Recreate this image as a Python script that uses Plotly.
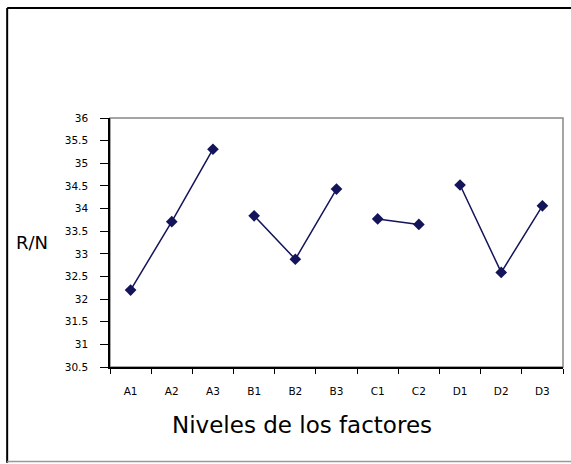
import plotly.graph_objects as go

categories = ["A1", "A2", "A3", "B1", "B2", "B3", "C1", "C2", "D1", "D2", "D3"]
factor_A = [32.2, 33.71, 35.31]
factor_B = [33.84, 32.88, 34.43]
factor_C = [33.77, 33.65]
factor_D = [34.52, 32.59, 34.06]
y_ticks = [30.5, 31, 31.5, 32, 32.5, 33, 33.5, 34, 34.5, 35, 35.5, 36]
y_tick_labels = ["30.5", "31", "31.5", "32", "32.5", "33", "33.5", "34", "34.5", "35", "35.5", "36"]
x_title = "Niveles de los factores"
y_title = "R/N"

color = "#14145a"
font_family = "DejaVu Sans"

fig = go.Figure()
groups = [(categories[0:3], factor_A), (categories[3:6], factor_B),
          (categories[6:8], factor_C), (categories[8:11], factor_D)]
for xs, ys in groups:
    fig.add_trace(go.Scatter(
        x=xs, y=ys, mode="lines+markers",
        line=dict(color=color, width=1.5),
        marker=dict(symbol="diamond", size=9, color=color),
        showlegend=False, hoverinfo="x+y",
    ))

axis_font = dict(family=font_family, size=10.5, color="black")
y_text = [t + "\u00a0" * 3 for t in y_tick_labels]
x_text = ["<br>" + c for c in categories]

fig.update_layout(
    width=571, height=464,
    margin=dict(l=110, r=8, t=118, b=97),
    paper_bgcolor="white", plot_bgcolor="white",
    xaxis=dict(type="category", categoryorder="array", categoryarray=categories,
               range=[-0.5, 10.5], tickson="boundaries", ticks="outside", ticklen=5,
               tickwidth=1, tickcolor="black", showline=True, linecolor="black",
               linewidth=1.5, showgrid=False, zeroline=False, tickfont=axis_font,
               tickvals=categories, ticktext=x_text),
    yaxis=dict(range=[30.5, 36], tickvals=y_ticks, ticktext=y_text,
               ticks="outside", ticklen=8, tickwidth=1, tickcolor="black",
               showline=True, linecolor="black", linewidth=1.5, showgrid=False,
               zeroline=False, tickfont=axis_font),
    shapes=[
        # plot area border (gray)
        dict(type="rect", xref="paper", yref="paper", x0=0, x1=1, y0=0, y1=1,
             line=dict(color="#888888", width=1.5), layer="below"),
        # outer chart frame
        dict(type="line", xref="paper", yref="paper", x0=-0.227, x1=-0.227, y0=-0.385, y1=1.442,
             line=dict(color="black", width=2)),
        dict(type="line", xref="paper", yref="paper", x0=-0.227, x1=1.03, y0=1.442, y1=1.442,
             line=dict(color="black", width=2)),
        dict(type="line", xref="paper", yref="paper", x0=-0.227, x1=1.03, y0=-0.38, y1=-0.38,
             line=dict(color="#999999", width=1.5)),
    ],
    annotations=[
        dict(text=y_title, xref="paper", yref="paper", x=-0.172, y=0.498,
             xanchor="center", yanchor="middle",
             showarrow=False, font=dict(family=font_family, size=18, color="black")),
        dict(text=x_title, xref="paper", yref="paper", x=0.424, y=-0.233,
             xanchor="center", yanchor="middle",
             showarrow=False, font=dict(family=font_family, size=23, color="black")),
    ],
)

fig.write_html("out.html", post_script="document.body.style.margin='0';",
               config={"displayModeBar": False})
